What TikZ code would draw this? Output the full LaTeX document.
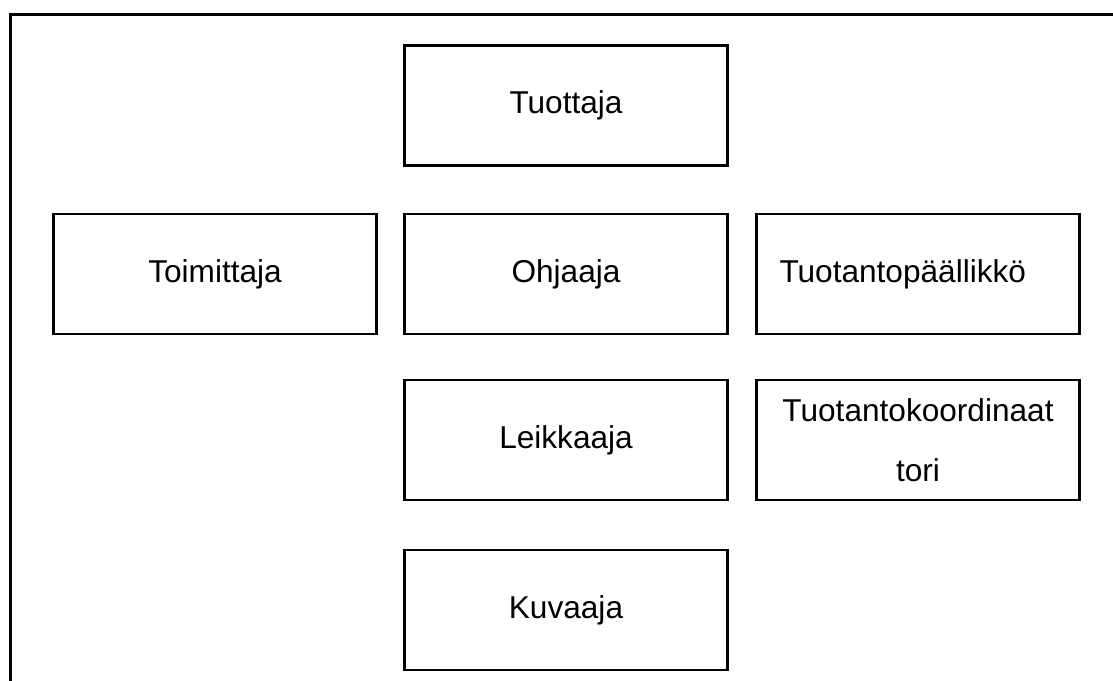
\documentclass[tikz,border=0pt]{standalone}
\usepackage{fontspec}
\setmainfont{Liberation Sans}
\begin{document}
\begin{tikzpicture}[x=1pt,y=-1pt,
  role/.style={draw=black, line width=2.6pt, minimum width=323pt, minimum height=120pt,
    inner sep=0pt, align=center, font=\fontsize{31.6}{60}\selectfont},
  frameline/.style={line width=3pt, line cap=rect}]
\useasboundingbox (0,0) rectangle (1113,680);
% outer frame (only its top and left edges lie on the page)
\coordinate (fTL) at (10,14);
\coordinate (fTR) at (1116,14);
\coordinate (fBL) at (10,684);
\draw[frameline] (fBL) -- (fTL) -- (fTR);
% role boxes
\node[role] (tuottaja)   at (566,105.5) {Tuottaja};
\node[role] (toimittaja) at (215,274) {Toimittaja};
\node[role] (ohjaaja)    at (566,274) {Ohjaaja};
\node[role, text width=277pt, inner xsep=23pt, align=left] (tpaallikko) at (918,274) {Tuotantopäällikkö};
\node[role] (leikkaaja)  at (566,440) {Leikkaaja};
\node[role] (tkoord)     at (918,440) {Tuotantokoordinaat\\tori};
\node[role] (kuvaaja)    at (566,610) {Kuvaaja};
\end{tikzpicture}
\end{document}
